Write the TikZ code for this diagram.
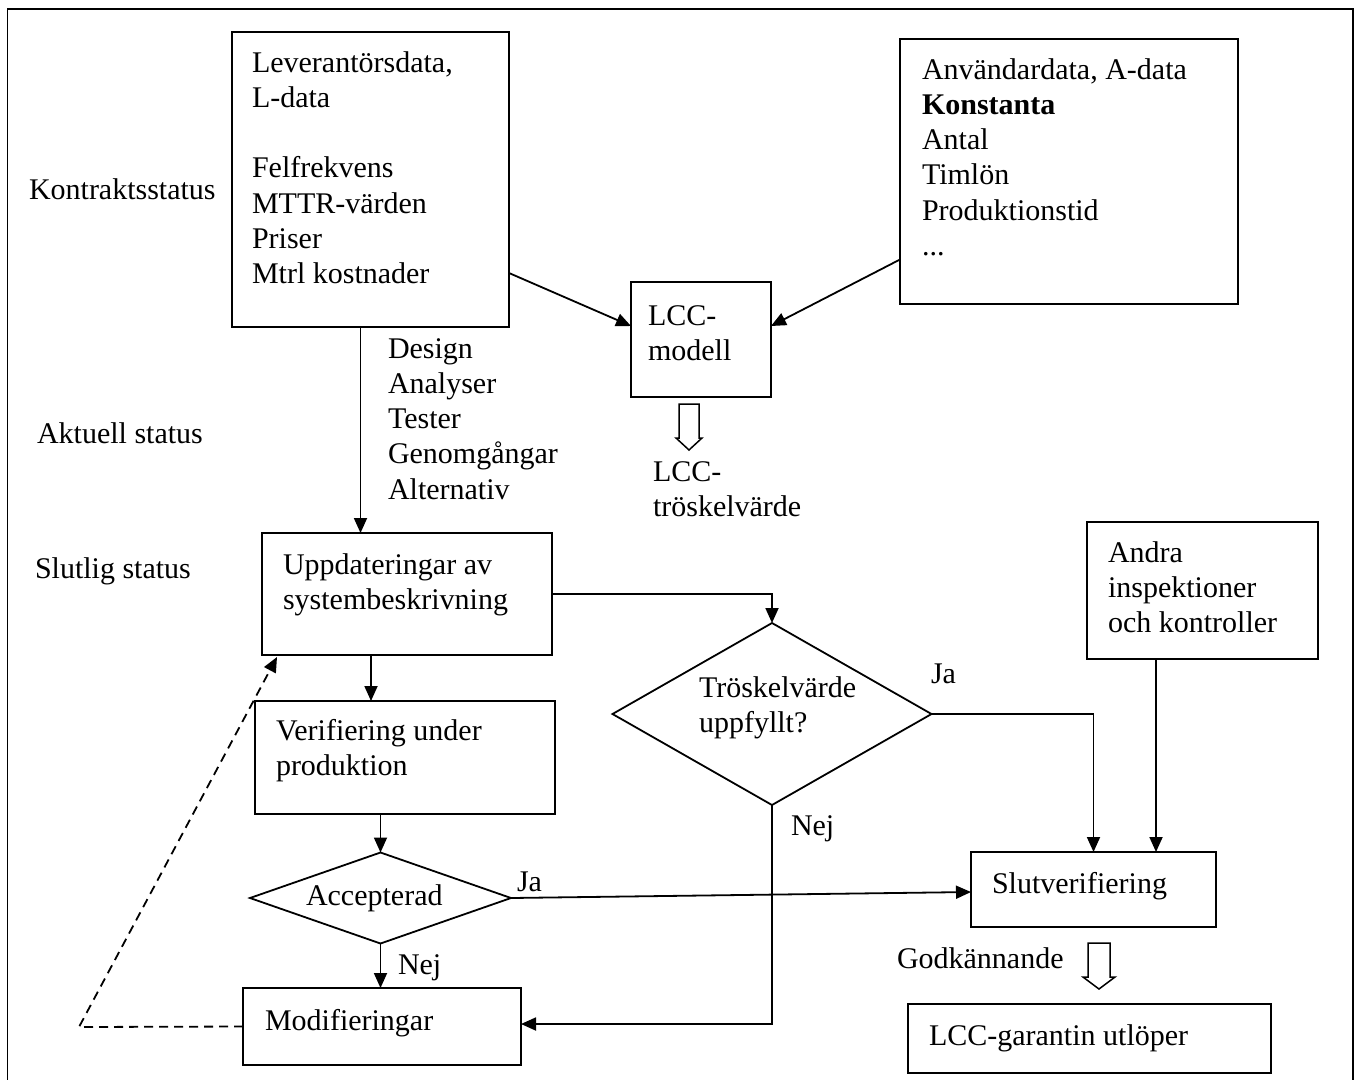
\documentclass[tikz,border=0pt]{standalone}
\usepackage{fontspec}
\setmainfont{Liberation Serif}
\usetikzlibrary{arrows.meta,shapes.geometric}

% stacked left-aligned lines; the baseline is that of the first line
\newcommand\linestack[1]{\vtop{\baselineskip=35.3pt\lineskiplimit=-100pt\halign{##\hfil\cr#1\crcr}}}

\begin{document}
\begin{tikzpicture}[x=1pt,y=-1pt,
  every node/.style={inner sep=0pt,outer sep=0pt,font=\fontsize{30}{35.3}\selectfont},
  txt/.style={anchor=base west},
  box/.style={draw,line width=1.8pt,rectangle},
  decision/.style={draw,line width=1.8pt,diamond},
  arr/.style={line width=1.8pt,-{Triangle[length=15pt,width=13pt]}},
  dashedarr/.style={line width=1.8pt,dash pattern=on 9pt off 6pt,-{Triangle[length=15pt,width=13pt]}},
  hollow/.style={draw,line width=1.5pt,line join=miter}]
\useasboundingbox (0,0) rectangle (1359,1079);

% outer frame
\draw[line width=1.8pt] (7.5,1100) -- (7.5,9) -- (1353,9) -- (1353,1100);

% phase labels
\node[txt] (kontrakt) at (29,199) {Kontraktsstatus};
\node[txt] (aktuell) at (37,443) {Aktuell status};
\node[txt] (slutlig) at (35,578) {Slutlig status};

% boxes
\node[box,minimum width=277pt,minimum height=295pt] (L) at (370.5,179.5) {};
\node[box,minimum width=338pt,minimum height=265pt] (A) at (1069,171.5) {};
\node[box,minimum width=140pt,minimum height=115pt] (lcc) at (701,339.5) {};
\node[box,minimum width=290pt,minimum height=122pt] (upd) at (407,594) {};
\node[box,minimum width=300pt,minimum height=113pt] (verif) at (405,757.5) {};
\node[box,minimum width=278pt,minimum height=77pt] (modif) at (382,1026.5) {};
\node[box,minimum width=231pt,minimum height=137pt] (andra) at (1202.5,590.5) {};
\node[box,minimum width=245pt,minimum height=75pt] (slutv) at (1093.5,889.5) {};
\node[box,minimum width=363pt,minimum height=69pt] (garanti) at (1089.5,1038.5) {};
\node[decision,minimum width=319pt,minimum height=182pt] (trosk) at (772,714) {};
\node[decision,minimum width=261pt,minimum height=91pt] (acc) at (380.5,898) {};

% box texts
\node[txt] (Ltext) at (252,72) {\linestack{Leverantörsdata,\cr L-data\cr \cr Felfrekvens\cr MTTR-värden\cr Priser\cr Mtrl kostnader}};
\node[txt] (Atext) at (922,79) {\linestack{Användardata, A-data\cr \textbf{Konstanta}\cr Antal\cr Timlön\cr Produktionstid\cr ...}};
\node[txt] (lcctext) at (648,325) {\linestack{LCC-\cr modell}};
\node[txt] (tresh) at (653,481) {\linestack{LCC-\cr tröskelvärde}};
\node[txt] (design) at (388,358) {\linestack{Design\cr Analyser\cr Tester\cr Genomgångar\cr Alternativ}};
\node[txt] (updtext) at (283,574) {\linestack{Uppdateringar av\cr systembeskrivning}};
\node[txt] (veriftext) at (276,740) {\linestack{Verifiering under\cr produktion}};
\node[txt] (trosktext) at (699,697) {\linestack{Tröskelvärde\cr uppfyllt?}};
\node[txt] (acctext) at (306,905) {Accepterad};
\node[txt] (modiftext) at (265,1030) {Modifieringar};
\node[txt] (andratext) at (1108,562) {\linestack{Andra\cr inspektioner\cr och kontroller}};
\node[txt] (slutvtext) at (992,893) {Slutverifiering};
\node[txt] (godk) at (897,968) {Godkännande};
\node[txt] (garantitext) at (929,1045) {LCC-garantin utlöper};

% branch labels
\node[txt] (ja1) at (931,683) {Ja};
\node[txt] (nej1) at (791,835) {Nej};
\node[txt] (ja2) at (517,891) {Ja};
\node[txt] (nej2) at (398,974) {Nej};

% connectors
\draw[arr] ([xshift=-10pt]L.south) -- ([xshift=-10pt]L.south |- upd.north);
\draw[arr] ([yshift=-93.5pt]L.east) -- ([yshift=13.5pt]lcc.west);
\draw[arr] ([yshift=-88pt]A.west) -- ([yshift=13.5pt]lcc.east);
\draw[arr] (upd.east) -| (trosk.north);
\draw[arr] ([xshift=-36pt]upd.south) -- ([xshift=-36pt]upd.south |- verif.north);
\draw[arr] (acc.north |- verif.south) -- (acc.north);
\draw[arr] (acc.south) -- (acc.south |- modif.north);
\draw[arr] (acc.east) -- ([yshift=-2.5pt]slutv.west);
\draw[arr] (trosk.east) -| (slutv.north);
\draw[arr] ([xshift=-46.5pt]andra.south) -- ([xshift=-46.5pt]andra.south |- slutv.north);
\draw[arr] (trosk.south) |- ([yshift=2.5pt]modif.east);
\coordinate (back) at (79,1027);
\draw[dashedarr] (modif.west) -- (back) -- ([xshift=15pt,yshift=-2pt]upd.south west);

% hollow block arrows
\draw[hollow] (679,404) -- (699,404) -- (699,438) -- (702,438) -- (689,450) -- (676,438) -- (679,438) -- cycle;
\draw[hollow] (1088,943) -- (1110,943) -- (1110,977) -- (1115,977) -- (1099,989) -- (1083,977) -- (1088,977) -- cycle;
\end{tikzpicture}
\end{document}
